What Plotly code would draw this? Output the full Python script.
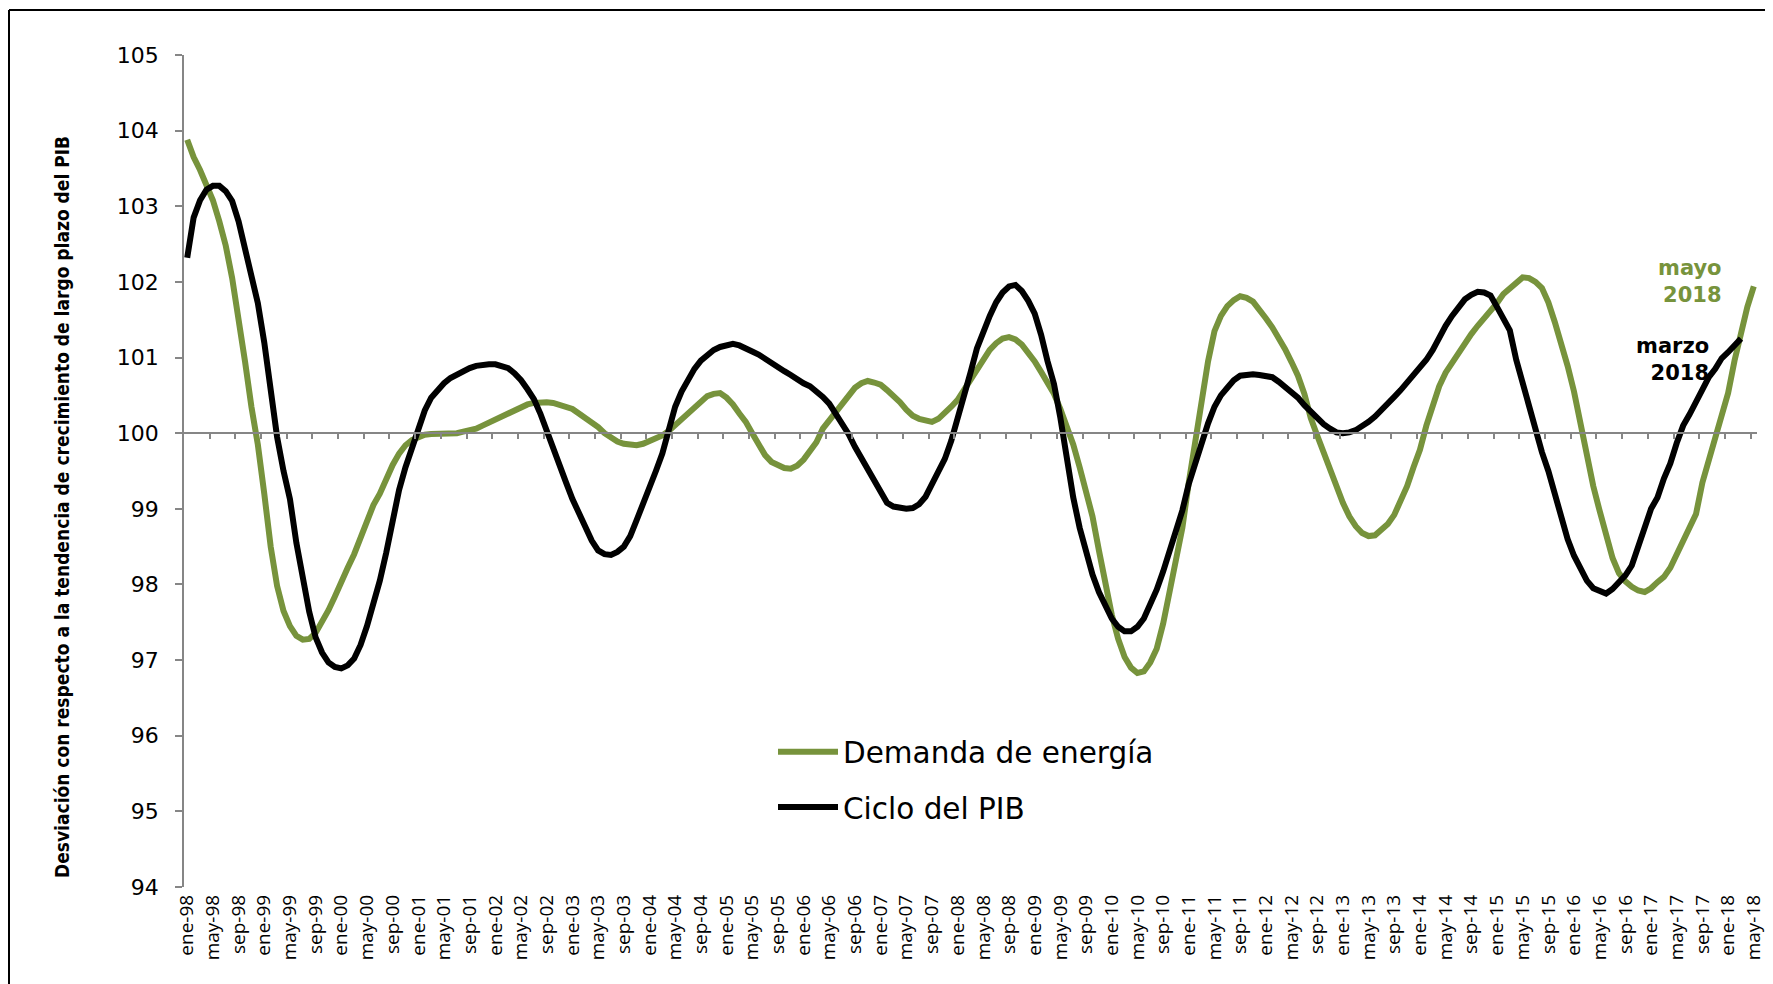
import plotly.graph_objects as go

# ---------------- data ----------------
years = list(range(1998, 2019))
month_abbr = ["ene", "feb", "mar", "abr", "may", "jun", "jul", "ago", "sep", "oct", "nov", "dic"]
months = [f"{m}-{str(y)[2:]}" for y in years for m in month_abbr][:245]  # ene-98 .. may-18

demanda_energia = [
    103.88, 103.65, 103.48, 103.28, 103.08, 102.80, 102.48, 102.05, 101.55, 100.95,
    100.35, 99.85, 99.20, 98.50, 97.98, 97.65, 97.45, 97.32, 97.27, 97.28,
    97.36, 97.50, 97.66, 97.84, 98.05, 98.22, 98.40, 98.62, 98.85, 99.05,
    99.20, 99.40, 99.58, 99.73, 99.84, 99.91, 99.95, 99.98, 99.99, 99.99,
    99.99, 100.00, 100.00, 100.02, 100.03, 100.06, 100.10, 100.14, 100.18, 100.22,
    100.27, 100.31, 100.35, 100.38, 100.40, 100.41, 100.41, 100.40, 100.38, 100.36,
    100.32, 100.26, 100.20, 100.15, 100.08, 100.00, 99.94, 99.89, 99.86, 99.84,
    99.84, 99.86, 99.89, 99.93, 99.97, 100.03, 100.11, 100.18, 100.26, 100.35,
    100.43, 100.49, 100.52, 100.53, 100.47, 100.38, 100.26, 100.15, 100.00, 99.84,
    99.71, 99.62, 99.57, 99.54, 99.53, 99.57, 99.65, 99.75, 99.88, 100.06,
    100.17, 100.28, 100.40, 100.50, 100.60, 100.66, 100.69, 100.67, 100.64, 100.57,
    100.50, 100.41, 100.31, 100.23, 100.19, 100.16, 100.15, 100.19, 100.26, 100.35,
    100.44, 100.57, 100.70, 100.86, 100.99, 101.10, 101.19, 101.25, 101.27, 101.24,
    101.17, 101.07, 100.95, 100.81, 100.66, 100.52, 100.32, 100.10, 99.85, 99.55,
    99.25, 98.90, 98.45, 98.01, 97.60, 97.28, 97.04, 96.90, 96.83, 96.85,
    96.97, 97.15, 97.48, 97.90, 98.28, 98.75, 99.35, 99.90, 100.44, 100.95,
    101.35, 101.55, 101.68, 101.76, 101.81, 101.79, 101.74, 101.64, 101.52, 101.40,
    101.27, 101.11, 100.94, 100.76, 100.52, 100.20, 99.97, 99.74, 99.52, 99.29,
    99.08, 98.90, 98.77, 98.68, 98.64, 98.65, 98.72, 98.80, 98.92, 99.10,
    99.30, 99.55, 99.78, 100.10, 100.37, 100.62, 100.80, 100.93, 101.04, 101.20,
    101.31, 101.42, 101.52, 101.60, 101.72, 101.84, 101.92, 102.00, 102.06, 102.05,
    102.00, 101.92, 101.73, 101.47, 101.20, 100.89, 100.55, 100.10, 99.67, 99.30,
    98.97, 98.65, 98.35, 98.15, 98.04, 97.97, 97.92, 97.90, 97.95, 98.03,
    98.10, 98.22, 98.40, 98.58, 98.75, 98.93, 99.35, 99.65, 100.00, 100.30,
    100.53, 100.96, 101.35, 101.67, 101.94,
]

ciclo_pib = [
    102.32, 102.85, 103.08, 103.22, 103.27, 103.27, 103.20, 103.07, 102.80, 102.43,
    102.10, 101.72, 101.20, 100.60, 99.95, 99.50, 99.13, 98.55, 98.06, 97.64,
    97.30, 97.10, 96.97, 96.91, 96.89, 96.93, 97.02, 97.20, 97.45, 97.72,
    98.05, 98.42, 98.85, 99.25, 99.55, 99.82, 100.08, 100.30, 100.47, 100.58,
    100.66, 100.73, 100.78, 100.82, 100.86, 100.89, 100.91, 100.91, 100.91, 100.89,
    100.86, 100.79, 100.70, 100.58, 100.45, 100.26, 100.02, 99.80, 99.57, 99.35,
    99.13, 98.94, 98.77, 98.58, 98.45, 98.40, 98.39, 98.43, 98.50, 98.64,
    98.85, 99.05, 99.30, 99.50, 99.73, 100.02, 100.35, 100.55, 100.72, 100.85,
    100.96, 101.04, 101.10, 101.14, 101.17, 101.18, 101.16, 101.13, 101.08, 101.04,
    100.98, 100.93, 100.88, 100.82, 100.77, 100.71, 100.66, 100.62, 100.56, 100.48,
    100.39, 100.26, 100.15, 99.99, 99.82, 99.67, 99.52, 99.35, 99.19, 99.08,
    99.03, 99.01, 99.00, 99.01, 99.06, 99.16, 99.32, 99.50, 99.66, 99.90,
    100.18, 100.50, 100.80, 101.12, 101.35, 101.55, 101.73, 101.86, 101.94, 101.96,
    101.88, 101.75, 101.58, 101.30, 100.95, 100.65, 100.20, 99.66, 99.15, 98.75,
    98.43, 98.13, 97.90, 97.70, 97.55, 97.44, 97.38, 97.38, 97.44, 97.55,
    97.72, 97.93, 98.17, 98.42, 98.68, 98.98, 99.33, 99.60, 99.92, 100.13,
    100.35, 100.50, 100.60, 100.70, 100.76, 100.78, 100.78, 100.77, 100.76, 100.74,
    100.68, 100.61, 100.54, 100.47, 100.37, 100.28, 100.19, 100.12, 100.06, 100.01,
    100.00, 100.01, 100.04, 100.09, 100.15, 100.22, 100.30, 100.39, 100.48, 100.57,
    100.67, 100.77, 100.84, 100.97, 101.10, 101.28, 101.42, 101.55, 101.67, 101.77,
    101.83, 101.87, 101.86, 101.82, 101.67, 101.53, 101.36, 100.97, 100.65, 100.38,
    100.04, 99.75, 99.50, 99.20, 98.85, 98.60, 98.38, 98.20, 98.05, 97.95,
    97.91, 97.88, 97.94, 98.02, 98.12, 98.25, 98.48, 98.75, 99.00, 99.15,
    99.40, 99.60, 99.87, 100.10, 100.25, 100.42, 100.58, 100.74, 100.85, 100.99,
    101.07, 101.16, 101.25,
]

y_ticks = [94, 95, 96, 97, 98, 99, 100, 101, 102, 103, 104, 105]
label_step = 4
y_title = "Desviación con respecto a la tendencia de crecimiento de largo plazo del PIB"

GREEN = "#77933C"
GREY = "#868686"

idx = list(range(len(months)))
label_idx = idx[::label_step]
label_txt = months[::label_step]
boundary_ticks = [i - 0.5 for i in label_idx[1:]]

fig = go.Figure()
fig.add_trace(go.Scatter(
    x=idx[:len(demanda_energia)], y=demanda_energia, mode="lines",
    name="Demanda de energía", legendgroup="a",
    line=dict(color=GREEN, width=6),
))
fig.add_trace(go.Scatter(
    x=idx[:len(ciclo_pib)], y=ciclo_pib, mode="lines",
    name="Ciclo del PIB", legendgroup="b",
    line=dict(color="black", width=6),
))

# page offset (html body margin) is 8px; plot area on the page: x 184..1757, y 55..887
PL, PR, PT, PB = 184, 1757, 55, 887
PW, PH = PR - PL, PB - PT


def px(xp):
    return (xp - PL) / PW


def py(yp):
    return (PB - yp) / PH


xr = [-0.5, len(months) - 0.5]
fig.update_layout(
    width=1773, height=984,
    margin=dict(l=PL - 8, r=1773 - (PR - 8), t=PT - 8, b=984 - (PB - 8)),
    paper_bgcolor="white", plot_bgcolor="white",
    showlegend=True,
    legend=dict(
        x=px(773), y=py(726), xanchor="left", yanchor="top",
        font=dict(family="DejaVu Sans", size=29.5, color="black"),
        bgcolor="rgba(0,0,0,0)", tracegroupgap=14,
        itemwidth=60,
    ),
    xaxis=dict(
        range=xr, tickmode="array", tickvals=label_idx, ticktext=label_txt,
        tickangle=-90, showline=False, ticks="", showgrid=False, zeroline=False,
        tickfont=dict(family="Open Sans", size=19, color="black"),
        ticklabelstandoff=3,
    ),
    xaxis2=dict(
        range=xr, overlaying="x", anchor="free", position=(100 - 94) / 11,
        showline=True, linecolor=GREY, linewidth=1.5,
        tickmode="array", tickvals=boundary_ticks, showticklabels=False,
        ticks="outside", ticklen=5, tickcolor=GREY, tickwidth=1.5,
        showgrid=False, zeroline=False,
    ),
    yaxis=dict(
        range=[94, 105], tickmode="array", tickvals=y_ticks,
        showline=True, linecolor=GREY, linewidth=1.5,
        ticks="outside", ticklen=7, tickcolor=GREY, tickwidth=1.5,
        showgrid=False, zeroline=False,
        tickfont=dict(family="DejaVu Sans", size=22, color="black"),
        ticklabelstandoff=12,
    ),
)
# dummy trace to activate xaxis2
fig.add_trace(go.Scatter(x=[None], y=[None], xaxis="x2", showlegend=False, hoverinfo="skip"))

# y-axis title
fig.add_annotation(
    text=f"<b>{y_title}</b>", textangle=-90,
    xref="paper", yref="paper",
    x=px(62), y=py(507),
    xanchor="center", yanchor="middle", showarrow=False,
    font=dict(family="DejaVu Sans Condensed, DejaVu Sans, sans-serif", size=19, color="black"),
)

# end labels
fig.add_annotation(
    text="<b>mayo<br>2018</b>", x=239.4, y=102.0, xref="x", yref="y",
    xanchor="right", yanchor="middle", align="right", showarrow=False,
    font=dict(family="DejaVu Sans", size=21, color=GREEN),
)
fig.add_annotation(
    text="<b>marzo<br>2018</b>", x=237.4, y=100.98, xref="x", yref="y",
    xanchor="right", yanchor="middle", align="right", showarrow=False,
    font=dict(family="DejaVu Sans", size=21, color="black"),
)

# outer chart border (left and top edges visible)
bx = px(9)
by = py(10)
fig.add_shape(type="line", xref="paper", yref="paper", x0=bx, x1=bx, y0=-0.2, y1=by,
              line=dict(color="black", width=2))
fig.add_shape(type="line", xref="paper", yref="paper", x0=bx, x1=1.1, y0=by, y1=by,
              line=dict(color="black", width=2))

fig.write_html("out.html")
